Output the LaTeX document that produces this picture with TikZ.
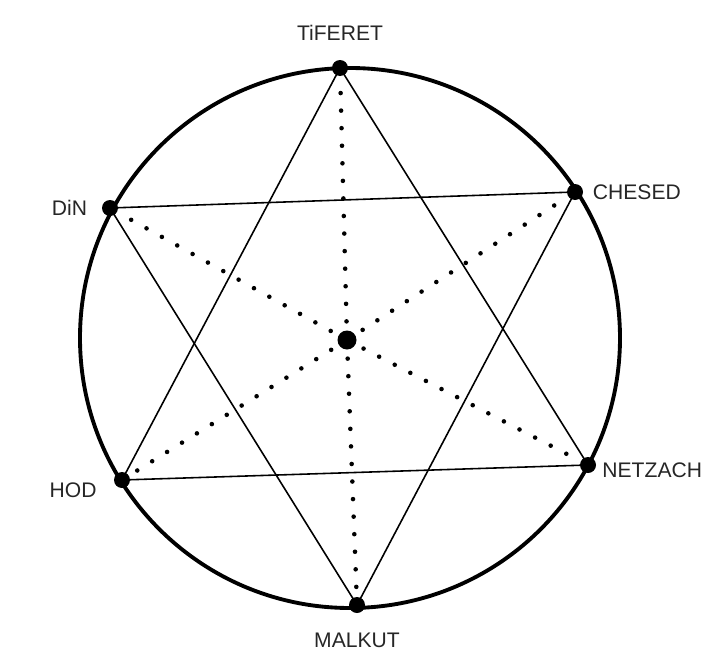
\documentclass[tikz,border=0pt]{standalone}
\usepackage{fontspec}
\setmainfont{Liberation Sans}
\usetikzlibrary{positioning}

\begin{document}
\begin{tikzpicture}[x=0.02cm, y=-0.02cm,
	sefira/.style={circle, fill=black, inner sep=0pt, minimum size=0.32cm},
	middot/.style={circle, fill=black, inner sep=0pt, minimum size=0.38cm},
	label/.style={font=\fontsize{12}{14}\selectfont, text=black!85, inner sep=1pt},
	star/.style={line width=0.9pt},
	ray/.style={line width=2.6pt, dash pattern=on 0pt off 10pt, line cap=round, shorten <=5pt}
	]
	\useasboundingbox (0,0) rectangle (707,656);
	
	%Outer circle
	\draw[line width=2.2pt] (350,338) circle (270);
	
	%Sefirot
	\node[sefira] (tiferet) at (340,68) {};
	\node[sefira] (chesed) at (575,192) {};
	\node[sefira] (netzach) at (588,465) {};
	\node[sefira] (malkut) at (357,605) {};
	\node[sefira] (hod) at (122,480) {};
	\node[sefira] (din) at (110,208) {};
	\node[middot] (center) at (347,340) {};
	
	\node[label, above=0.35cm of tiferet] (l-tiferet) {TiFERET};
	\node[label, left=0.25cm of din] (l-din) {DiN};
	\node[label, right=0.15cm of chesed] (l-chesed) {CHESED};
	\node[label, right=0.08cm of netzach, yshift=-0.1cm] (l-netzach) {NETZACH};
	\node[label, left=0.3cm of hod, yshift=-0.2cm] (l-hod) {HOD};
	\node[label, below=0.35cm of malkut] (l-malkut) {MALKUT};
	
	%Two triangles
	\draw[star] (tiferet.center) -- (netzach.center) -- (hod.center) -- cycle;
	\draw[star] (din.center) -- (chesed.center) -- (malkut.center) -- cycle;
	
	%Dotted rays
	\foreach \s in {tiferet, chesed, netzach, malkut, hod, din}
	\draw[ray] (center) -- (\s);
\end{tikzpicture}
\end{document}
